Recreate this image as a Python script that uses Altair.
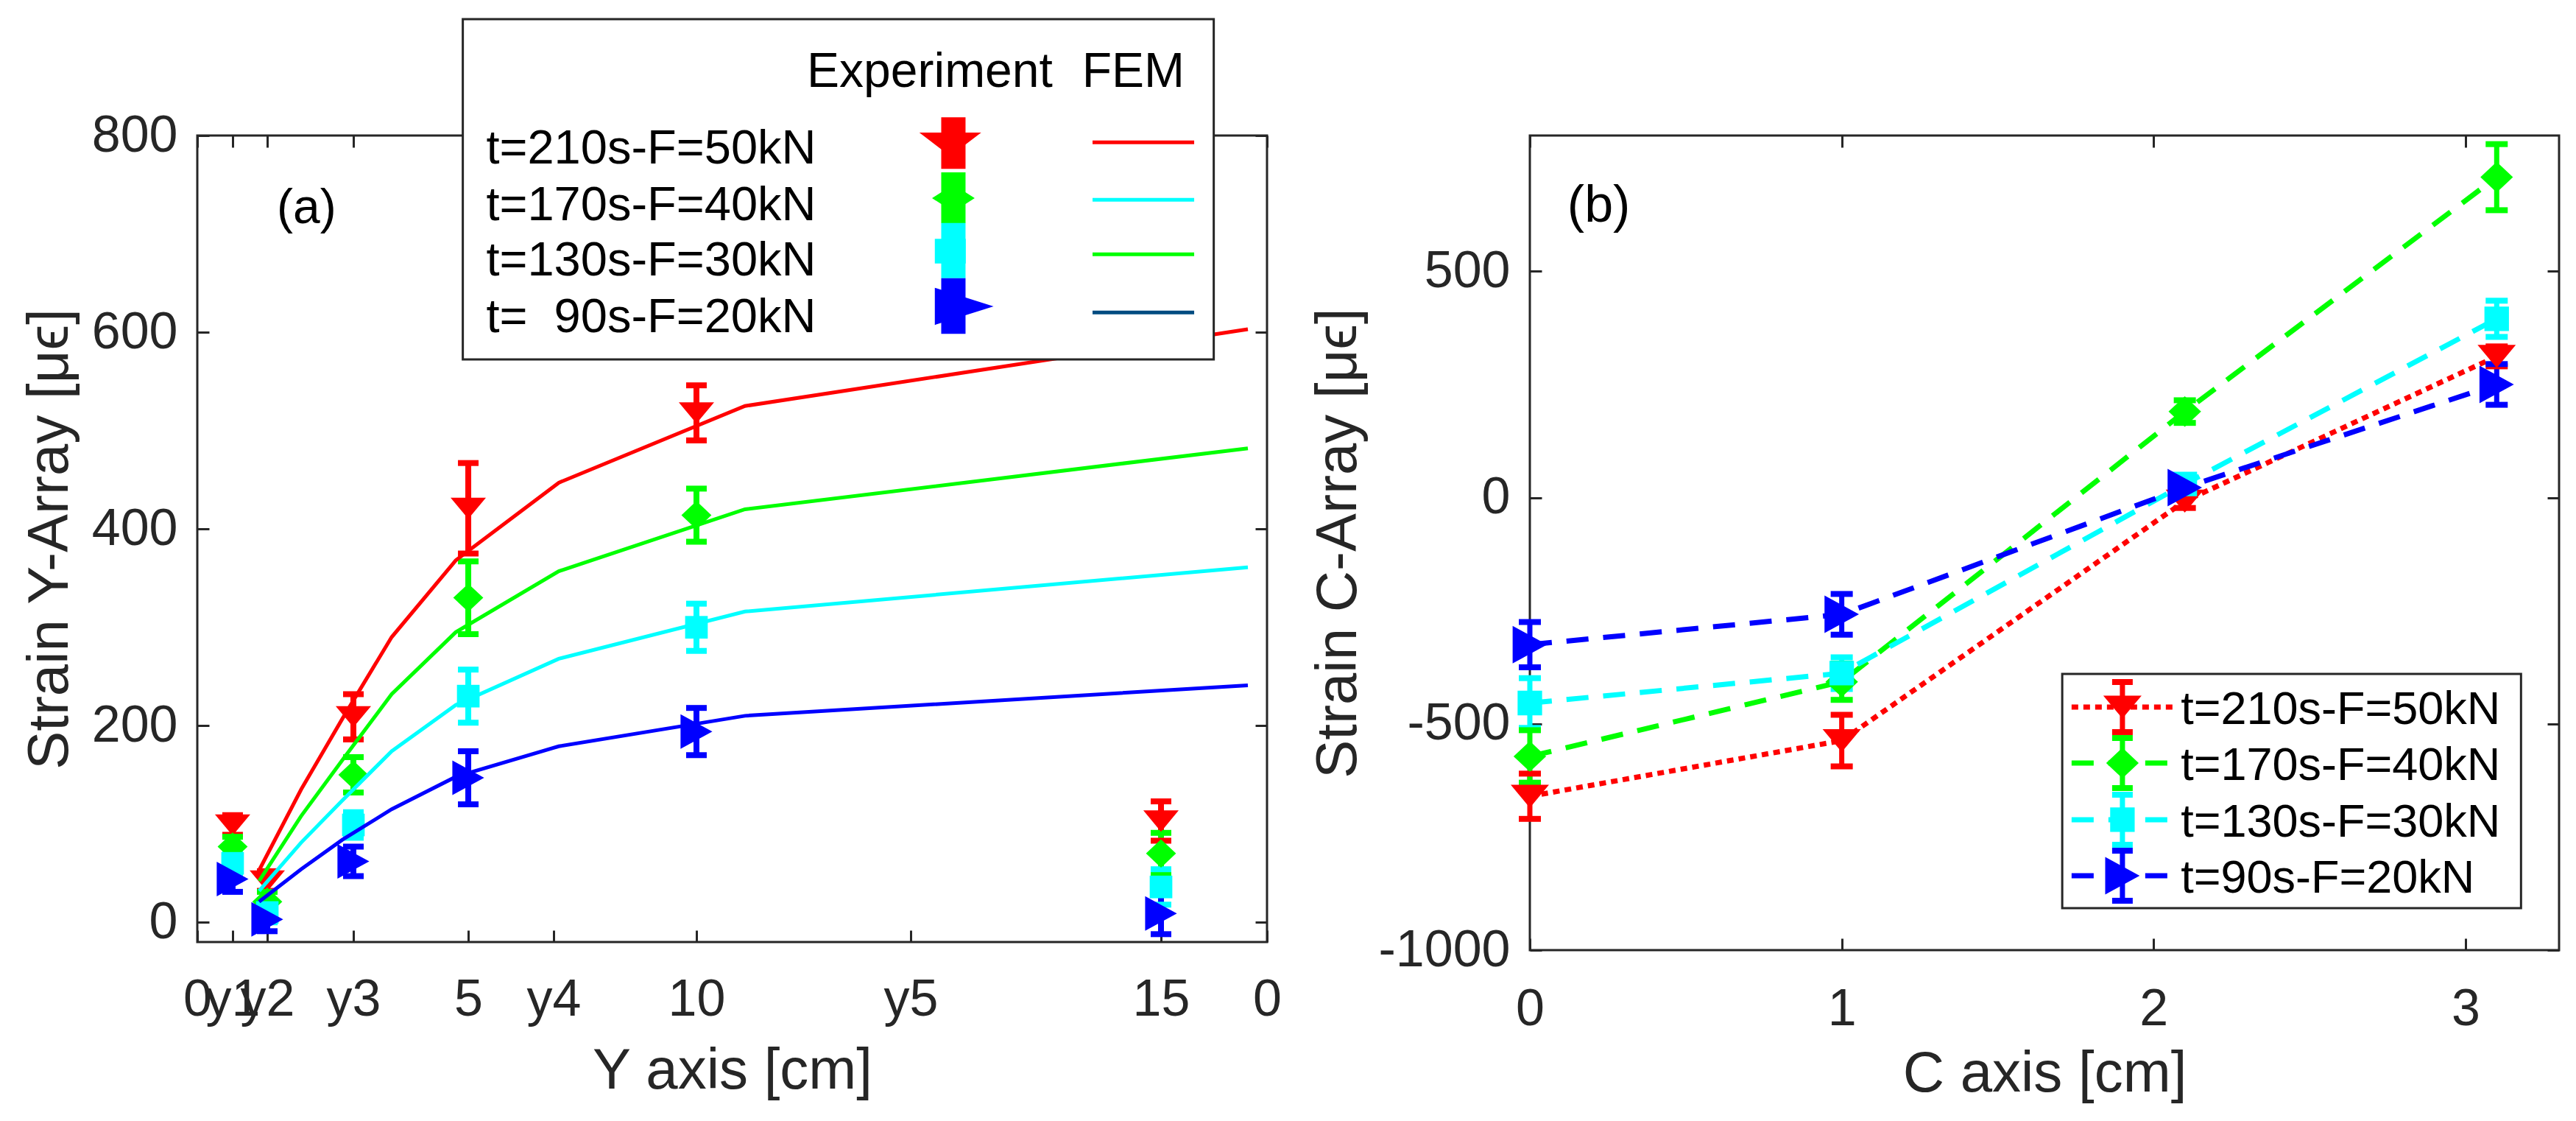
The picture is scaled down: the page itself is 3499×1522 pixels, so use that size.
import json
import altair as alt
import pandas as pd

FONT = "Liberation Sans"
INK = "#262626"

# ---------------- data ----------------
SERIES = ["t=210s-F=50kN", "t=170s-F=40kN", "t=130s-F=30kN", "t=90s-F=20kN"]
COLORS = ["#ff0000", "#00ff00", "#00ffff", "#0000ff"]
LEGEND_A_LABELS = ["t=210s-F=50kN", "t=170s-F=40kN", "t=130s-F=30kN", "t=\u00a0\u00a090s-F=20kN"]
LEGEND_A_FEM_COLORS = ["#ff0000", "#00ffff", "#00ff00", "#004b80"]

# Panel (a): x axis uses an abstract position scale with custom tick labels
A_TICK_POS = [0, 3.30, 6.54, 14.59, 25.33, 33.31, 46.66, 66.69, 90.09, 100]
A_TICK_LAB = ["0", "y1", "y2", "y3", "5", "y4", "10", "y5", "15", "0"]
A_Y_TICKS = [0, 200, 400, 600, 800]

A_EXP_X = [3.30, 6.54, 14.59, 25.33, 46.66, 90.09]
A_EXP_50 = [99, 42, 209, 421, 518, 103]
A_EXP_40 = [77, 21, 150, 330, 414, 70]
A_EXP_30 = [60, 10, 99, 230, 300, 36]
A_EXP_20 = [44, 3, 62, 147, 194, 9]
A_ERR_50 = [10, 10, 23, 46, 28, 20]
A_ERR_40 = [10, 10, 18, 37, 27, 21]
A_ERR_30 = [12, 10, 13, 27, 24, 18]
A_ERR_20 = [13, 12, 15, 27, 24, 21]

A_FEM_X = [5.78, 9.70, 13.56, 18.17, 24.16, 33.79, 51.20, 98.21]
A_FEM_50 = [53, 135, 207, 290, 368, 447, 525, 603]
A_FEM_40 = [42, 108, 165, 232, 295, 357, 420, 482]
A_FEM_30 = [32, 81, 124, 174, 221, 268, 316, 361]
A_FEM_20 = [21, 54, 84, 115, 148, 179, 210, 241]

# Panel (b)
B_X = [0, 1, 2.1, 3.1]
B_50 = [-660, -537, -8, 312]
B_40 = [-572, -407, 190, 708]
B_30 = [-454, -388, 30, 395]
B_20 = [-325, -258, 22, 250]
B_ERR_50 = [50, 57, 15, 22]
B_ERR_40 = [58, 40, 25, 73]
B_ERR_30 = [55, 35, 15, 40]
B_ERR_20 = [50, 45, 15, 45]
B_X_TICKS = [0, 1, 2, 3]
B_Y_TICKS = [-1000, -500, 0, 500]

# ---------------- styles / layout ----------------
TICK_LEN = 16
A_W, A_H = 1453, 1095
B_W, B_H = 1398, 1106

PATH_TRI_DOWN = "M-1,-0.6L1,-0.6L0,0.6Z"
PATH_DIAMOND = "M0,-0.8L0.85,0L0,0.8L-0.85,0Z"
PATH_SQUARE = "M-0.64,-0.64L0.64,-0.64L0.64,0.64L-0.64,0.64Z"
PATH_TRI_RIGHT = "M-0.9,-0.98L0.9,0L-0.9,0.98Z"
PLOT_PATHS = [PATH_TRI_DOWN, PATH_DIAMOND, PATH_SQUARE, PATH_TRI_RIGHT]
LEG_A_PATHS = [
    "M-1.1,-0.38L0.9,-0.38L-0.1,0.38Z",
    "M0,-0.44L0.69,0L0,0.44L-0.69,0Z",
    "M-0.6,-0.4L0.4,-0.4L0.4,0.4L-0.6,0.4Z",
    "M-0.6,-0.6L1.3,0L-0.6,0.6Z",
]

# legend placement (data coordinates of each panel)
LA_BOX = (24.82, 95.02, 918.3, 572.4)
LA_HEAD = [("Experiment", 56.99), ("FEM", 82.70)]
LA_HEAD_Y = 849.6
LA_TEXT_X = 27.01
LA_TEXT_Y = [771.5, 713.9, 657.7, 600.1]
LA_MARK_X = 70.68
LA_MARK_Y = [791.0, 736.3, 682.4, 626.3]
LA_BAR = [(766.1, 818.5), (710.9, 762.6), (654.9, 711.1), (598.3, 654.9)]
LA_FEM_X = (83.69, 93.19)
LA_FEM_Y = [793.0, 734.6, 679.2, 620.1]
LA_TAG = ("(a)", 7.43, 725.8)

LB_BOX = (1.707, 3.178, -389.7, -907.2)
LB_LINE_X = (1.737, 2.062)
LB_MARK_X = 1.900
LB_ROW_Y = [-462.9, -586.6, -711.9, -835.6]
LB_TEXT_X = 2.087
LB_TEXT_Y = [-500.4, -624.1, -749.4, -873.1]
LB_ERR = 55.3
LB_TAG = ("(b)", 0.12, 643.8)


# ---------------- frames ----------------
def exp_frame(xs, vals_list, errs_list):
    rows = []
    for s, vals, errs in zip(SERIES, vals_list, errs_list):
        for x, v, e in zip(xs, vals, errs):
            rows.append({"series": s, "x": x, "y": v, "lo": v - e, "hi": v + e})
    return pd.DataFrame(rows)


def caps_frame(df):
    lo = df[["series", "x", "lo"]].rename(columns={"lo": "y"})
    hi = df[["series", "x", "hi"]].rename(columns={"hi": "y"})
    return pd.concat([lo, hi], ignore_index=True)


def line_frame(xs, vals_list):
    rows = []
    for s, vals in zip(SERIES, vals_list):
        for x, v in zip(xs, vals):
            rows.append({"series": s, "x": x, "y": v})
    return pd.DataFrame(rows)


a_exp = exp_frame(A_EXP_X, [A_EXP_50, A_EXP_40, A_EXP_30, A_EXP_20],
                  [A_ERR_50, A_ERR_40, A_ERR_30, A_ERR_20])
a_caps = caps_frame(a_exp)
a_fem = line_frame(A_FEM_X, [A_FEM_50, A_FEM_40, A_FEM_30, A_FEM_20])

b_exp = exp_frame(B_X, [B_50, B_40, B_30, B_20], [B_ERR_50, B_ERR_40, B_ERR_30, B_ERR_20])
b_caps = caps_frame(b_exp)

# legend frames
la_box = pd.DataFrame([{"x": LA_BOX[0], "x2": LA_BOX[1], "y": LA_BOX[2], "y2": LA_BOX[3]}])
la_head = pd.DataFrame([{"label": t, "x": x, "y": LA_HEAD_Y} for t, x in LA_HEAD])
la_text = pd.DataFrame([{"label": l, "x": LA_TEXT_X, "y": y} for l, y in zip(LEGEND_A_LABELS, LA_TEXT_Y)])
la_bar = pd.DataFrame([{"series": s, "x": LA_MARK_X, "lo": b[0], "hi": b[1]} for s, b in zip(SERIES, LA_BAR)])
la_mark = pd.DataFrame([{"series": s, "x": LA_MARK_X, "y": y} for s, y in zip(SERIES, LA_MARK_Y)])
la_fem = pd.DataFrame([{"series": s, "x": x, "y": y} for s, y in zip(SERIES, LA_FEM_Y) for x in LA_FEM_X])
la_tag = pd.DataFrame([{"label": LA_TAG[0], "x": LA_TAG[1], "y": LA_TAG[2]}])

lb_box = pd.DataFrame([{"x": LB_BOX[0], "x2": LB_BOX[1], "y": LB_BOX[2], "y2": LB_BOX[3]}])
lb_line = pd.DataFrame([{"series": s, "x": x, "y": y} for s, y in zip(SERIES, LB_ROW_Y) for x in LB_LINE_X])
lb_bar = pd.DataFrame([{"series": s, "x": LB_MARK_X, "y": y, "lo": y - LB_ERR, "hi": y + LB_ERR}
                       for s, y in zip(SERIES, LB_ROW_Y)])
lb_caps = caps_frame(lb_bar)
lb_text = pd.DataFrame([{"label": l, "x": LB_TEXT_X, "y": y} for l, y in zip(SERIES, LB_TEXT_Y)])
lb_tag = pd.DataFrame([{"label": LB_TAG[0], "x": LB_TAG[1], "y": LB_TAG[2]}])

# ---------------- scales / axes ----------------
color = alt.Color("series:N", scale=alt.Scale(domain=SERIES, range=COLORS), legend=None)


def tick_axis(orient, values):
    return alt.Axis(orient=orient, values=values, offset=-TICK_LEN, tickSize=TICK_LEN, tickWidth=3,
                    tickColor=INK, labels=False, domain=False, grid=False, title=None)


def main_axis(orient, values, title, label_pad, title_pos, label_expr):
    kw = dict(orient=orient, values=values, ticks=False, tickSize=0, domain=False, grid=False,
              labelFont=FONT, labelFontSize=70, labelColor=INK, labelPadding=label_pad,
              labelOverlap=False, labelFlush=False, labelExpr=label_expr,
              title=title, titleFont=FONT, titleFontSize=78, titleFontWeight="normal",
              titleColor=INK, titleBaseline="alphabetic")
    if orient == "bottom":
        kw["titleY"] = title_pos
    else:
        kw["titleX"] = title_pos
    return alt.Axis(**kw)


A_XS = alt.Scale(domain=[0, 100], nice=False, zero=False)
A_YS = alt.Scale(domain=[-20, 800], nice=False, zero=False)
B_XS = alt.Scale(domain=[0, 3.3], nice=False, zero=False)
B_YS = alt.Scale(domain=[-1000, 800], nice=False, zero=False)

a_label_expr = f"{json.dumps(A_TICK_LAB)}[indexof({json.dumps(A_TICK_POS)}, datum.value)]"
A_XAXIS = main_axis("bottom", A_TICK_POS, "Y axis [cm]", 44, 198, a_label_expr)
A_YAXIS = main_axis("left", A_Y_TICKS, "Strain Y-Array [\u03bc\u03f5]", 27, -177, "toString(datum.value)")
B_XAXIS = main_axis("bottom", B_X_TICKS, "C axis [cm]", 46, 191, "toString(datum.value)")
B_YAXIS = main_axis("left", B_Y_TICKS, "Strain C-Array [\u03bc\u03f5]", 27, -237, "toString(datum.value)")


def X(sc, axis=None, field="x"):
    return alt.X(f"{field}:Q", scale=sc, axis=axis)


def Y(sc, axis=None, field="y"):
    return alt.Y(f"{field}:Q", scale=sc, axis=axis)


# ---------------- panel (a) ----------------
a_layers = [
    alt.Chart(a_exp).mark_rule(strokeWidth=8).encode(
        x=X(A_XS, tick_axis("bottom", A_TICK_POS)), y=Y(A_YS, tick_axis("left", A_Y_TICKS), "lo"),
        y2="hi:Q", color=color),
    alt.Chart(a_caps).mark_rule(strokeWidth=8, xOffset=-14, x2Offset=14).encode(
        x=X(A_XS), x2="x:Q", y=Y(A_YS), color=color),
    alt.Chart(a_exp).mark_point(filled=True, opacity=1, size=48 * 48, strokeWidth=0).encode(
        x=X(A_XS, tick_axis("top", A_TICK_POS)), y=Y(A_YS, tick_axis("right", A_Y_TICKS)), color=color,
        shape=alt.Shape("series:N", scale=alt.Scale(domain=SERIES, range=PLOT_PATHS), legend=None)),
    alt.Chart(a_fem).mark_line(strokeWidth=5).encode(
        x=X(A_XS, A_XAXIS), y=Y(A_YS, A_YAXIS), color=color),
    alt.Chart(la_tag).mark_text(align="left", baseline="middle", font=FONT, fontSize=66, color="black").encode(
        x=X(A_XS), y=Y(A_YS), text="label:N"),
    # legend
    alt.Chart(la_box).mark_rect(fill="white", stroke=INK, strokeWidth=3).encode(
        x=X(A_XS), x2="x2:Q", y=Y(A_YS), y2="y2:Q"),
    alt.Chart(la_head).mark_text(align="left", baseline="alphabetic", font=FONT, fontSize=66, color="black").encode(
        x=X(A_XS), y=Y(A_YS), text="label:N"),
    alt.Chart(la_text).mark_text(align="left", baseline="alphabetic", font=FONT, fontSize=65, color="black").encode(
        x=X(A_XS), y=Y(A_YS), text="label:N"),
    alt.Chart(la_bar).mark_rule(strokeWidth=33).encode(
        x=X(A_XS), y=Y(A_YS, field="lo"), y2="hi:Q", color=color),
    alt.Chart(la_mark).mark_point(filled=True, opacity=1, size=84 * 84, strokeWidth=0).encode(
        x=X(A_XS), y=Y(A_YS), color=color,
        shape=alt.Shape("series:N", scale=alt.Scale(domain=SERIES, range=LEG_A_PATHS), legend=None)),
    alt.Chart(la_fem).mark_line(strokeWidth=5).encode(
        x=X(A_XS), y=Y(A_YS), detail="series:N",
        stroke=alt.Stroke("series:N", scale=alt.Scale(domain=SERIES, range=LEGEND_A_FEM_COLORS), legend=None)),
]
panel_a = alt.layer(*a_layers).resolve_scale(shape="independent").resolve_axis(
    x="independent", y="independent").properties(width=A_W, height=A_H)

# ---------------- panel (b) ----------------
dash = alt.StrokeDash("series:N", scale=alt.Scale(domain=SERIES, range=[[9, 7], [30, 20], [30, 20], [30, 20]]),
                      legend=None)
b_shape = alt.Shape("series:N", scale=alt.Scale(domain=SERIES, range=PLOT_PATHS), legend=None)
b_layers = [
    alt.Chart(b_exp).mark_line(strokeWidth=7).encode(
        x=X(B_XS, B_XAXIS), y=Y(B_YS, B_YAXIS), color=color, strokeDash=dash),
    alt.Chart(b_exp).mark_rule(strokeWidth=7).encode(
        x=X(B_XS, tick_axis("bottom", B_X_TICKS)), y=Y(B_YS, tick_axis("left", B_Y_TICKS), "lo"),
        y2="hi:Q", color=color),
    alt.Chart(b_caps).mark_rule(strokeWidth=8, xOffset=-15, x2Offset=15).encode(
        x=X(B_XS), x2="x:Q", y=Y(B_YS), color=color),
    alt.Chart(b_exp).mark_point(filled=True, opacity=1, size=52 * 52, strokeWidth=0).encode(
        x=X(B_XS, tick_axis("top", B_X_TICKS)), y=Y(B_YS, tick_axis("right", B_Y_TICKS)), color=color,
        shape=b_shape),
    alt.Chart(lb_tag).mark_text(align="left", baseline="middle", font=FONT, fontSize=70, color="black").encode(
        x=X(B_XS), y=Y(B_YS), text="label:N"),
    # legend
    alt.Chart(lb_box).mark_rect(fill="white", stroke=INK, strokeWidth=3).encode(
        x=X(B_XS), x2="x2:Q", y=Y(B_YS), y2="y2:Q"),
    alt.Chart(lb_line).mark_line(strokeWidth=7).encode(
        x=X(B_XS), y=Y(B_YS), color=color, strokeDash=dash),
    alt.Chart(lb_bar).mark_rule(strokeWidth=7).encode(
        x=X(B_XS), y=Y(B_YS, field="lo"), y2="hi:Q", color=color),
    alt.Chart(lb_caps).mark_rule(strokeWidth=8, xOffset=-14, x2Offset=14).encode(
        x=X(B_XS), x2="x:Q", y=Y(B_YS), color=color),
    alt.Chart(lb_bar).mark_point(filled=True, opacity=1, size=52 * 52, strokeWidth=0).encode(
        x=X(B_XS), y=Y(B_YS), color=color, shape=b_shape),
    alt.Chart(lb_text).mark_text(align="left", baseline="alphabetic", font=FONT, fontSize=63, color="black").encode(
        x=X(B_XS), y=Y(B_YS), text="label:N"),
]
panel_b = alt.layer(*b_layers).resolve_axis(x="independent", y="independent").properties(width=B_W, height=B_H)

chart = alt.hconcat(panel_a, panel_b, spacing=357, bounds="flush").properties(
    padding={"left": 19, "top": 15, "right": 5, "bottom": 5}, background="white"
).configure_view(stroke=INK, strokeWidth=3)

chart.save("out.html", embed_options={"renderer": "svg", "actions": False})
